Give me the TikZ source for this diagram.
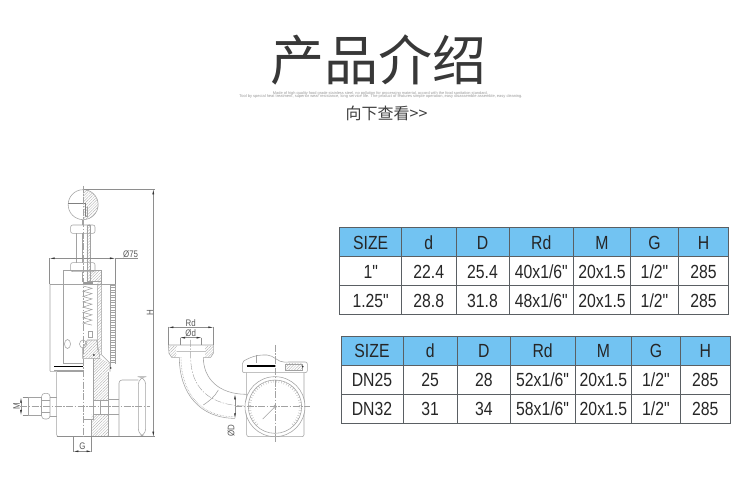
\documentclass[tikz,border=0pt]{standalone}
\usepackage{fontspec}
\usetikzlibrary{patterns.meta,arrows.meta}
\setmainfont{Liberation Sans}
\newfontfamily\cjk{Noto Sans CJK SC}
\newfontfamily\tabfont[FakeStretch=0.83]{Liberation Sans}
\definecolor{hdr}{HTML}{72C3F2}
\definecolor{grid}{HTML}{5A5F63}
\definecolor{ink}{HTML}{A2A2A2}
\definecolor{dim}{HTML}{8E8E8E}
\definecolor{hatchc}{HTML}{A8A8A8}
\tikzset{
  cell/.style={font=\tabfont\fontsize{19}{19}\selectfont,text=black!85,inner sep=0pt,anchor=center},
  hairline/.style={draw=ink,line width=.55pt},
  heavy/.style={draw=black,line width=1.3pt},
  centre/.style={draw=ink,line width=.4pt,dash pattern=on 7pt off 1.5pt on 1.5pt off 1.5pt},
  dimline/.style={draw=dim,line width=.4pt},
  dimarrow/.style={draw=dim,line width=.4pt,{Latex[length=5pt,width=1.8pt,black!80]}-{Latex[length=5pt,width=1.8pt,black!80]}},
  hatch/.style={pattern={Lines[distance=2pt,angle=45,line width=.3pt]},pattern color=hatchc},
  dimtext/.style={text=black!65,font=\tabfont\fontsize{9.5}{9.5}\selectfont,inner sep=0pt},
}
\begin{document}
\begin{tikzpicture}[x=1pt,y=-1pt]
\useasboundingbox (0,0) rectangle (750,489);
\fill[white] (0,0) rectangle (750,489);
% ---------- heading
\node[inner sep=0pt,text=black!78] (title) at (378,60) {\cjk\fontsize{54}{54}\selectfont 产品介绍};
\node[inner sep=0pt,text=black!40,font=\fontsize{3.9}{4}\selectfont] (sub1) at (380.5,93) {Made of high quality food grade stainless steel, no pollution for processing material, accord with the food sanitation standard,};
\node[inner sep=0pt,text=black!40,font=\fontsize{4}{4}\selectfont] (sub2) at (381,96.7) {Tool by special heat treatment, superior wear resistance, long service life. The product of features simple operation, easy disassemble assemble, easy cleaning.};
\node[inner sep=0pt,text=black!75] (more) at (386.5,113) {\cjk\fontsize{16}{16}\selectfont 向下查看>>};
% ---------- table 1
\fill[hdr] (339.7,227.3) rectangle (728.3,256);
\draw[grid,line width=.8pt] (339.7,227.3) rectangle (728.3,314.7);
\foreach \yy in {256,285.7} \draw[grid,line width=.8pt] (339.7,\yy) -- (728.3,\yy);
\foreach \xx in {401.7,456,509,573.7,630.3,678.7} \draw[grid,line width=.8pt] (\xx,227.3) -- (\xx,314.7);
\foreach \t/\cx [count=\i] in {SIZE/370.7,d/428.8,D/482.5,Rd/541.3,M/602,G/654.5,H/703.5}
  \node[cell] (ah\i) at (\cx,242.5) {\t};
\foreach \t/\cx [count=\i] in {1"/370.7,22.4/428.8,25.4/482.5,40x1\slash 6"/541.3,20x1.5/602,1\slash 2"/654.5,285/703.5}
  \node[cell] (ar\i) at (\cx,271.5) {\t};
\foreach \t/\cx [count=\i] in {1.25"/370.7,28.8/428.8,31.8/482.5,48x1\slash 6"/541.3,20x1.5/602,1\slash 2"/654.5,285/703.5}
  \node[cell] (as\i) at (\cx,300.5) {\t};
% ---------- table 2
\fill[hdr] (341,336) rectangle (730.7,365);
\draw[grid,line width=.8pt] (341,336) rectangle (730.7,423);
\foreach \yy in {365,394} \draw[grid,line width=.8pt] (341,\yy) -- (730.7,\yy);
\foreach \xx in {403,457.3,510.3,575,631.7,680} \draw[grid,line width=.8pt] (\xx,336) -- (\xx,423);
\foreach \t/\cx [count=\i] in {SIZE/372,d/430.2,D/483.8,Rd/542.6,M/603.4,G/655.9,H/705.3}
  \node[cell] (bh\i) at (\cx,350.5) {\t};
\foreach \t/\cx [count=\i] in {DN25/372,25/430.2,28/483.8,52x1\slash 6"/542.6,20x1.5/603.4,1\slash 2"/655.9,285/705.3}
  \node[cell] (br\i) at (\cx,380) {\t};
\foreach \t/\cx [count=\i] in {DN32/372,31/430.2,34/483.8,58x1\slash 6"/542.6,20x1.5/603.4,1\slash 2"/655.9,285/705.3}
  \node[cell] (bs\i) at (\cx,409) {\t};
% ---------- valve section, upper part (zoom coordinates)
\begin{scope}[shift={(0,170)},scale=1/3]
  \fill[hatch] (250,59) arc[start angle=-90,end angle=90,radius=45] -- cycle;
  \draw[hairline] (249.5,104) circle[radius=45];
  \draw[draw=black!50,line width=.8pt] (205,100) -- (256,100) -- (256,140);
  \draw[hairline] (262,110) -- (262,140) -- (255,140);
  % stem and nuts
  \draw[hairline] (228,190) -- (228,278) (248,150) -- (248,335);
  \fill[white] (212,165) rectangle (285,190);
  \draw[hairline,rounded corners=2pt] (212,165) rectangle (285,190);
  \fill[hatch] (261,165) rectangle (272,335);
  \draw[hairline] (261,165) rectangle (272,335);
  \fill[white] (212,278) rectangle (261,305);
  \draw[hairline,rounded corners=2pt] (212,278) rectangle (285,305);
  \fill[hatch] (272,302) rectangle (305,335);
  \draw[hairline] (190,342) -- (190,300) -- (305,300) -- (305,342);
  \draw[hairline] (261,335) -- (305,335);
  \fill[black!40] (250,335) rectangle (280,346);
  % Ø75 and H dimension
  \draw[dimline] (149,265) -- (149,342) (345,265) -- (345,342);
  \draw[dimarrow] (149,265) -- (345,265);
  \draw[dimline] (345,265) -- (415,265);
  \node[dimtext] (phi75) at (392,252) {Ø75};
  \draw[dimline] (250,58) -- (465,58);
  \node[dimtext,rotate=90] (hh) at (450,429) {H};
\end{scope}
% H arrow runs to the lower reference line
\coordinate (htop) at (153.3,189.3);
\coordinate (hbot) at (153.3,436.7);
\draw[dimarrow] (htop) -- (hbot);
% ---------- valve section, cylinder
\draw[hairline,rounded corners=1pt] (50,284) -- (50,371.7) -- (56.7,371.7);
\draw[hairline] (50,284) -- (115,284);
\draw[hairline] (63.3,284) -- (63.3,363.3) -- (83,363.3);
\draw[hairline] (54,370) -- (83,370);
\draw[heavy] (54,366.7) -- (83,366.7);
\draw[hairline] (67.5,344) ellipse (3pt and 4.5pt);
\draw[hairline] (83,344) ellipse (3.5pt and 4pt);
% spring
\draw[hairline] (83,286)
  \foreach \k in {0,...,6} { -- ++(9,2.3) -- ++(-9,3) } -- ++(9,2);
\draw[hairline] (88,331) rectangle (92.5,337);
% right sleeve and scale
\fill[hatch] (97.3,282) rectangle (101.7,355);
\draw[hairline] (97.3,284) -- (97.3,350) (101.7,284) -- (101.7,355) -- (110,363.3) -- (110,371.7);
\draw[hairline] (110,284) -- (110,368) (115,284) -- (115,364);
\foreach \k in {0,...,31} \draw[hairline,line width=.3pt] (110,{285+2.5*\k}) -- (115,{285+2.5*\k});
\fill[black!80] (110.7,368) circle[radius=.8];
% ---------- valve section, lower part (zoom coordinates)
\begin{scope}[shift={(0,320)},scale=1/3]
  \fill[hatch] (248,115) -- (248,85) -- (262,60) -- (290,60) -- (300,115) -- cycle;
  \draw[hairline] (248,115) -- (248,85) -- (262,60) -- (290,60) -- (300,115) -- cycle;
  \fill[hatch] (280,115) -- (300,115) -- (330,130) -- (325,155) -- (325,240) -- (280,240) -- cycle;
  \fill[hatch] (275,283) -- (325,283) -- (325,350) -- (275,350) -- cycle;
  \fill[black!80] (282,105) circle[radius=3];
  \draw[hairline] (280,115) -- (280,297) -- (248,297);
  \draw[hairline] (275,297) -- (275,350);
  \draw[hairline] (280,240) -- (325,240) (280,283) -- (325,283);
  \draw[hairline] (300,240) -- (300,283);
  \draw[hairline] (325,155) -- (325,350);
  \draw[hairline,rounded corners=2pt] (170,155) -- (170,350) -- (325,350);
  \draw[hairline] (170,155) -- (248,155);
  % gauge at the right
  \draw[hairline] (325,237) -- (357,237) (325,283) -- (357,283);
  \draw[hairline,rounded corners=3pt] (357,350) -- (357,180) -- (415,180);
  \draw[hairline] (357,350) -- (437,350);
  \draw[hairline,rounded corners=8pt] (415,350) -- (415,170) -- (437,170) -- (437,350) -- cycle;
  % left fitting
  \draw[hairline] (85,233) rectangle (125,285);
  \draw[hairline,rounded corners=3pt] (125,220) rectangle (150,297);
  \draw[hairline] (125,240) -- (150,240) (125,277) -- (150,277);
  \draw[hairline] (150,232) -- (170,232) (150,288) -- (170,288);
  \draw[dimline] (68,233) -- (85,233) (68,285) -- (85,285);
  \draw[dimarrow] (63,233) -- (63,285);
  \node[dimtext,rotate=90] (mm) at (50,258) {M};
  % G dimension
  \draw[dimline] (220,350) -- (220,396) (275,350) -- (275,396);
  \draw[dimarrow] (220,394) -- (275,394);
  \node[dimtext] (gg) at (247,380) {G};
  % reference line and centre lines
  \draw[dimline] (170,350) -- (465,350);
  \draw[centre] (60,258) -- (450,258);
\end{scope}
\draw[centre] (83,186) -- (83,437);
% ---------- elbow and gauge (zoom coordinates)
\begin{scope}[shift={(150,300)},scale=1/3]
  % pipe
  \draw[hairline] (88,172) .. controls (88,280) and (150,355) .. (255,355);
  \draw[hairline,densely dotted] (93,172) .. controls (93,275) and (150,350) .. (250,350);
  \draw[hairline] (160,172) .. controls (160,235) and (205,283) .. (290,283);
  \draw[hairline] (160,315) .. controls (175,305) and (195,290) .. (205,270);
  \draw[centre] (122,120) -- (122,172) .. controls (122,260) and (175,318) .. (290,318);
  % flange
  \fill[hatch] (57,138) -- (80,138) -- (80,172) -- (65,172) -- (57,160) -- cycle;
  \fill[hatch] (165,138) -- (190,138) -- (190,160) -- (182,172) -- (165,172) -- cycle;
  \draw[hairline] (55,135) -- (190,135) -- (190,160) -- (182,172) -- (160,172)
                  (88,172) -- (65,172) -- (57,160) -- (55,135)
                  (80,155) -- (165,155);
  % dimensions
  \draw[dimline] (55,80) -- (55,135) (190,80) -- (190,135)
                 (90,113) -- (90,135) (155,113) -- (155,135);
  \draw[dimarrow] (55,82) -- (190,82);
  \draw[dimarrow] (90,113) -- (155,113);
  \node[dimtext] (rd) at (122,68) {Rd};
  \node[dimtext] (phid) at (122,100) {Ød};
  \draw[dimarrow] (255,283) -- (255,355);
  \node[dimtext,rotate=90] (phiD) at (243,393) {ØD};
  % gauge housing
  \draw[hairline,rounded corners=2pt] (290,218) -- (290,410) -- (462,410) -- (462,218);
  \draw[hairline,rounded corners=2pt] (277,218) -- (277,185) .. controls (300,172) and (320,165) .. (345,165)
      .. controls (370,165) and (385,188) .. (410,186) -- (472,186) -- (472,218) -- cycle;
  \draw[hairline] (318,165) -- (318,190);
  \fill[hatch] (407,192) rectangle (458,212);
  \draw[hairline] (407,192) rectangle (458,212);
  \draw[draw=black,line width=1.2pt] (290,198) -- (375,198);
  \fill[black!80] (458,200) circle[radius=3];
  % gauge face
  \fill[white] (375,320) circle[radius=88];
  \draw[hairline] (375,320) circle[radius=90];
  \draw[hairline] (375,320) circle[radius=80];
  \foreach \a in {-225,-219,...,45} \draw[hairline,line width=.3pt] ({375+72*cos(\a)},{320+72*sin(\a)}) -- ({375+80*cos(\a)},{320+80*sin(\a)});
  \draw[hairline] (375,320) circle[radius=5];
  \draw[hairline] (372,323) -- (338,357);
  \draw[centre] (375,135) -- (375,425);
  \draw[centre] (255,320) -- (480,320);
\end{scope}
\end{tikzpicture}
\end{document}
